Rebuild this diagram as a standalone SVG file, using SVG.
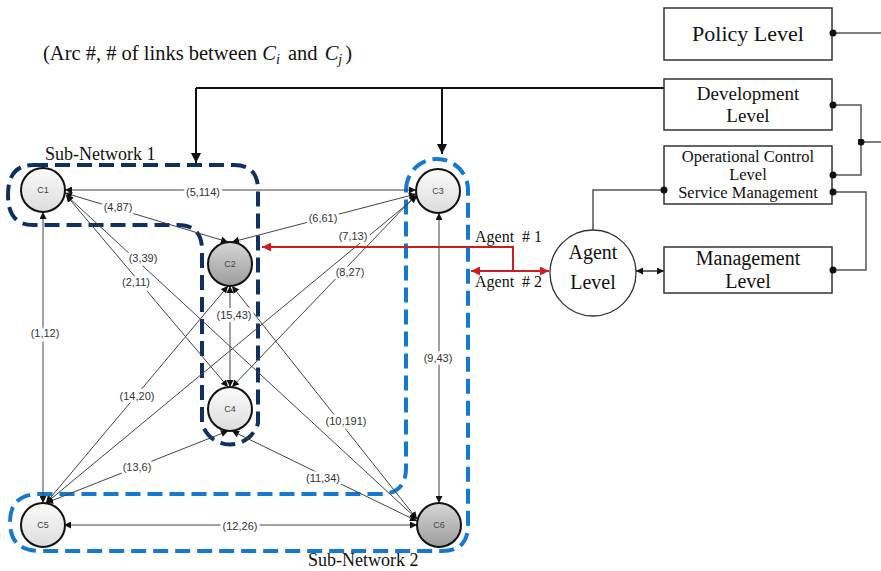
<svg xmlns="http://www.w3.org/2000/svg" width="881" height="571" viewBox="0 0 881 571">
  <defs>
    <!-- small arrowhead for arcs between clusters -->
    <marker id="ah" viewBox="0 0 10 10" refX="10" refY="5" markerWidth="8" markerHeight="7" markerUnits="userSpaceOnUse" orient="auto-start-reverse">
      <path d="M0,0 L10,5 L0,10 z" fill="#111"/>
    </marker>
    <!-- heavier arrowhead for level-to-network links -->
    <marker id="ahBold" viewBox="0 0 10 10" refX="10" refY="5" markerWidth="10" markerHeight="10" markerUnits="userSpaceOnUse" orient="auto-start-reverse">
      <path d="M0,0 L10,5 L0,10 z" fill="#111"/>
    </marker>
    <marker id="ahRed" viewBox="0 0 10 10" refX="10" refY="5" markerWidth="10" markerHeight="9" markerUnits="userSpaceOnUse" orient="auto-start-reverse">
      <path d="M0,0 L10,5 L0,10 z" fill="#d01c1c"/>
    </marker>
    <marker id="dot" viewBox="0 0 10 10" refX="5" refY="5" markerWidth="7" markerHeight="7" markerUnits="userSpaceOnUse">
      <circle cx="5" cy="5" r="5" fill="#111"/>
    </marker>
    <linearGradient id="gLight" x1="0" y1="0" x2="0" y2="1">
      <stop offset="0" stop-color="#fbfbfb"/>
      <stop offset="1" stop-color="#dcdcdc"/>
    </linearGradient>
    <linearGradient id="gDark" x1="0" y1="0" x2="0" y2="1">
      <stop offset="0" stop-color="#d6d6d6"/>
      <stop offset="1" stop-color="#9c9c9c"/>
    </linearGradient>
  </defs>

  <style>
    .serif { font-family: "Liberation Serif", "Times New Roman", serif; fill: #111; }
    .edge { stroke: #444; stroke-width: 1; fill: none; marker-start: url(#ah); marker-end: url(#ah); }
    .elab { font-family: "Liberation Sans", Arial, sans-serif; font-size: 11px; fill: #333; text-anchor: middle; paint-order: stroke; stroke: #fff; stroke-width: 6px; stroke-linejoin: round; }
    .node { stroke: #111; stroke-width: 2; }
    .nlab { font-family: "Liberation Sans", Arial, sans-serif; font-size: 9px; fill: #444; text-anchor: middle; }
    .box { fill: #fff; stroke: #333; stroke-width: 1.5; }
    .wire { stroke: #555; stroke-width: 1.5; fill: none; }
    .bold { stroke: #111; stroke-width: 2; fill: none; }
    .red { stroke: #d01c1c; stroke-width: 2; fill: none; }
    .sn1 { fill: none; stroke: #0d3160; stroke-width: 4; stroke-dasharray: 15 7; }
    .sn2 { fill: none; stroke: #1479cf; stroke-width: 4; stroke-dasharray: 15 7; }
  </style>

  <rect width="881" height="571" fill="#fff"/>

  <!-- legend -->
  <text class="serif" x="43" y="60" font-size="20.5">(Arc #, # of links between <tspan font-style="italic">C</tspan><tspan font-style="italic" font-size="14" dy="4">i</tspan><tspan dy="-4" dx="3"> and </tspan><tspan font-style="italic" dx="2">C</tspan><tspan font-style="italic" font-size="14" dy="4">j</tspan><tspan dy="-4" dx="3">)</tspan></text>

  <!-- sub-network outlines -->
  <g id="subnetwork-1">
    <path class="sn1" d="M33,165 H234 Q258,165 258,190 V423 A29,29 0 0 1 202,423 V250 Q202,225 178,225 H33 Q8,225 8,195 Q8,165 33,165 Z"/>
    <text class="serif" x="45" y="160" font-size="18">Sub-Network 1</text>
  </g>
  <g id="subnetwork-2">
    <path class="sn2" d="M406,190 A31,31 0 0 1 468,190 V525 Q468,551 442,551 H40 Q10,551 10,522 Q10,494 40,494 H380 Q406,494 406,468 Z"/>
    <text class="serif" x="308" y="566" font-size="18">Sub-Network 2</text>
  </g>

  <!-- arcs between clusters -->
  <g id="connectors">
    <line class="edge" x1="43" y1="212" x2="43" y2="503"/>
    <line class="edge" x1="66" y1="195" x2="228" y2="387"/>
    <line class="edge" x1="66" y1="195" x2="417" y2="519"/>
    <line class="edge" x1="65" y1="193" x2="228" y2="242"/>
    <line class="edge" x1="65" y1="190" x2="416" y2="190"/>
    <line class="edge" x1="416" y1="194" x2="232" y2="242"/>
    <line class="edge" x1="416" y1="195" x2="232" y2="387"/>
    <line class="edge" x1="417" y1="196" x2="46" y2="503"/>
    <line class="edge" x1="439" y1="213" x2="439" y2="503"/>
    <line class="edge" x1="232" y1="286" x2="417" y2="519"/>
    <line class="edge" x1="417" y1="521" x2="232" y2="431"/>
    <line class="edge" x1="64" y1="525" x2="417" y2="525"/>
    <line class="edge" x1="46" y1="503" x2="228" y2="431"/>
    <line class="edge" x1="228" y1="286" x2="46" y2="503"/>
    <line class="edge" x1="230" y1="286" x2="230" y2="387"/>

    <text class="elab" x="45" y="337">(1,12)</text>
    <text class="elab" x="136" y="286">(2,11)</text>
    <text class="elab" x="143" y="262">(3,39)</text>
    <text class="elab" x="118" y="211">(4,87)</text>
    <text class="elab" x="203" y="196">(5,114)</text>
    <text class="elab" x="323" y="222">(6,61)</text>
    <text class="elab" x="353" y="240">(7,13)</text>
    <text class="elab" x="350" y="276">(8,27)</text>
    <text class="elab" x="438" y="362">(9,43)</text>
    <text class="elab" x="346" y="425">(10,191)</text>
    <text class="elab" x="323" y="482">(11,34)</text>
    <text class="elab" x="240" y="530">(12,26)</text>
    <text class="elab" x="137" y="471">(13,6)</text>
    <text class="elab" x="137" y="400">(14,20)</text>
    <text class="elab" x="234" y="319">(15,43)</text>

    <!-- development level feeds both sub-networks -->
    <path class="bold" d="M664,88 H196"/>
    <line class="bold" x1="196" y1="88" x2="196" y2="163" marker-end="url(#ahBold)"/>
    <line class="bold" x1="442" y1="88" x2="442" y2="154" marker-end="url(#ahBold)"/>

    <!-- agents -->
    <path class="red" d="M513,271 V247 H262" marker-end="url(#ahRed)"/>
    <line class="red" x1="471" y1="271" x2="549" y2="271" marker-start="url(#ahRed)" marker-end="url(#ahRed)"/>

    <!-- level hierarchy wiring -->
    <line class="wire" x1="833" y1="33" x2="881" y2="33"/>
    <path class="wire" d="M833,105 H861 V175 H833"/>
    <line class="wire" x1="861" y1="142" x2="881" y2="142" marker-start="url(#dot)"/>
    <path class="wire" d="M833,192 H866 V270 H833"/>
    <path class="wire" d="M593,230 V190 H664"/>
    <line stroke="#111" stroke-width="1.3" x1="636" y1="271" x2="664" y2="271" marker-start="url(#ah)" marker-end="url(#ah)"/>
  </g>

  <text class="serif" x="475" y="242" font-size="16" xml:space="preserve">Agent  # 1</text>
  <text class="serif" x="475" y="287" font-size="16" xml:space="preserve">Agent  # 2</text>

  <!-- clusters -->
  <g id="C1"><circle class="node" cx="43" cy="190" r="22" fill="url(#gLight)"/><text class="nlab" x="43" y="193">C1</text></g>
  <g id="C2"><circle class="node" cx="230" cy="264" r="22" fill="url(#gDark)"/><text class="nlab" x="230" y="267">C2</text></g>
  <g id="C3"><circle class="node" cx="438" cy="191" r="22" fill="url(#gLight)"/><text class="nlab" x="438" y="194">C3</text></g>
  <g id="C4"><circle class="node" cx="230" cy="409" r="22" fill="url(#gLight)"/><text class="nlab" x="230" y="412">C4</text></g>
  <g id="C5"><circle class="node" cx="43" cy="525" r="22" fill="url(#gLight)"/><text class="nlab" x="43" y="528">C5</text></g>
  <g id="C6"><circle class="node" cx="439" cy="525" r="22" fill="url(#gDark)"/><text class="nlab" x="439" y="528">C6</text></g>

  <!-- management levels -->
  <g id="policy-level">
    <rect class="box" x="664" y="8" width="168" height="52"/>
    <text class="serif" x="748" y="41" font-size="22" text-anchor="middle">Policy Level</text>
  </g>
  <g id="development-level">
    <rect class="box" x="664" y="79" width="168" height="51"/>
    <text class="serif" x="748" y="100" font-size="19" text-anchor="middle">Development</text>
    <text class="serif" x="748" y="122" font-size="19" text-anchor="middle">Level</text>
  </g>
  <g id="operational-control-level">
    <rect class="box" x="664" y="146" width="168" height="58"/>
    <text class="serif" x="748" y="162" font-size="16.5" text-anchor="middle">Operational Control</text>
    <text class="serif" x="748" y="180" font-size="16.5" text-anchor="middle">Level</text>
    <text class="serif" x="748" y="198" font-size="16.5" text-anchor="middle">Service Management</text>
  </g>
  <g id="management-level">
    <rect class="box" x="664" y="247" width="168" height="46"/>
    <text class="serif" x="748" y="265" font-size="20" text-anchor="middle">Management</text>
    <text class="serif" x="748" y="288" font-size="20" text-anchor="middle">Level</text>
  </g>
  <g id="agent-level">
    <circle cx="593" cy="273" r="43" fill="#fff" stroke="#333" stroke-width="1.3"/>
    <text class="serif" x="593" y="259" font-size="20" text-anchor="middle">Agent</text>
    <text class="serif" x="593" y="289" font-size="20" text-anchor="middle">Level</text>
  </g>

  <!-- connection dots drawn over box borders -->
  <g fill="#111">
    <circle cx="833" cy="33" r="3.5"/>
    <circle cx="833" cy="105" r="3.5"/>
    <circle cx="833" cy="175" r="3.5"/>
    <circle cx="833" cy="192" r="3.5"/>
    <circle cx="833" cy="270" r="3.5"/>
    <circle cx="664" cy="190" r="3.5"/>
  </g>
</svg>
